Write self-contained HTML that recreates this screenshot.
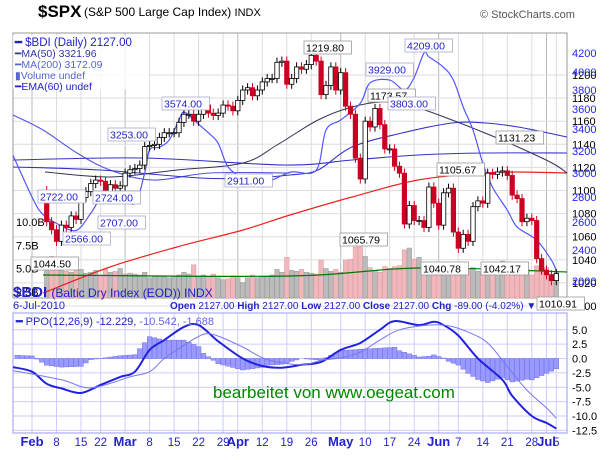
<!DOCTYPE html>
<html><head><meta charset="utf-8"><style>
body{margin:0;background:#fff;width:614px;height:455px;overflow:hidden;font-family:"Liberation Sans",sans-serif}
svg text{font-family:"Liberation Sans",sans-serif}
</style></head><body>
<svg id="c" width="614" height="455" xmlns="http://www.w3.org/2000/svg">
<rect width="614" height="455" fill="#fff"/>
<g id="grid"></g>
<g id="vol"></g>
<g id="lines"></g>
<g id="candles"></g>
<g id="ppo"></g>
<g id="labels"></g>
<text x="38" y="17" font-size="17" font-weight="bold" fill="#000">$SPX</text>
<text x="84" y="16" font-size="12" fill="#000">(S&amp;P 500 Large Cap Index) <tspan font-size="11">INDX</tspan></text>
<text x="480" y="18" font-size="11" fill="#555">© StockCharts.com</text>
<rect x="13" y="35" width="136" height="54" fill="#fff" fill-opacity="0.8"/>
<g font-size="10.5" fill="#22c">
<text x="15" y="46" font-size="11.5" font-family="DejaVu Sans Mono"><tspan font-weight="bold">━</tspan> $BDI (Daily) 2127.00</text>
<text x="15" y="57" fill="#33a">━MA(50) 3321.96</text>
<text x="15" y="68" fill="#56c">━MA(200) 3172.09</text>
<text x="15" y="79" fill="#56c">▮Volume undef</text>
<text x="15" y="90" fill="#22c">━EMA(60) undef</text>
</g>
<text x="13" y="297" font-size="15" font-weight="bold" fill="#22c">$BDI <tspan font-size="12" font-weight="normal">(Baltic Dry Index (EOD)) INDX</tspan></text>
<text x="13" y="309" font-size="11" fill="#22c">6-Jul-2010</text>
<text x="170" y="309" font-size="10" fill="#22c"><tspan font-weight="bold">Open</tspan> 2127.00 <tspan font-weight="bold">High</tspan> 2127.00 <tspan font-weight="bold">Low</tspan> 2127.00 <tspan font-weight="bold">Close</tspan> 2127.00 <tspan font-weight="bold">Chg</tspan> -89.00 (-4.02%) ▼</text>
<text x="16" y="325" font-size="11" fill="#22c"><tspan font-weight="bold">━</tspan> PPO(12,26,9) -12.229, <tspan fill="#66d">-10.542, -1.688</tspan></text>
<text x="213" y="398" font-size="17" fill="#080">bearbeitet von  www.oegeat.com</text>
</svg>
<script>
const startIdx=3;
const closes=[1073,1066,1056,1070,1068,1078,1075,1094,1099,1106,1109,1108,1094,1105,1102,1104,
1115,1118,1119,1122,1138,1139,1140,1146,1150,1150,1150,1159,1166,1166,1160,1166,1174,1167,1165,1167,1174,1173,1169,
1178,1187,1189,1182,1187,1194,1197,1197,1211,1212,1192,1197,1207,1205,1209,1217,1212,1183,1191,1207,1187,
1202,1173,1166,1128,1110,1160,1155,1171,1157,1136,1136,1121,1115,1071,1087,1074,1074,1068,1103,1089,
1070,1098,1102,1064,1050,1062,1056,1086,1091,1089,1115,1114,1116,1117,1113,1096,1093,1073,1076,1074,1041,1031,
1027,1022,1028];
const volumes=[6.1,6.3,4.9,5.1,4.7,4.6,4.8,4.9,4.5,4.6,4.8,4.3,4.9,4.6,4.7,5.0,
4.4,4.5,4.4,4.3,4.6,4.0,4.1,4.2,4.1,4.0,4.2,4.3,4.6,4.4,5.4,4.2,4.3,4.1,4.4,4.0,3.8,3.9,4.2,
4.0,3.5,4.0,4.3,4.0,4.1,4.2,4.3,4.9,4.6,6.2,4.8,4.7,4.9,4.6,4.5,4.4,5.9,5.0,4.7,4.9,
4.6,5.9,6.0,7.3,7.6,6.3,5.1,4.8,4.6,5.2,5.0,5.2,5.3,7.0,7.2,6.0,6.2,5.1,5.4,4.9,
5.0,5.3,4.9,5.7,5.2,5.4,5.0,5.1,4.7,4.3,4.6,4.7,4.6,5.8,4.5,4.6,4.4,4.8,4.9,4.3,5.3,5.6,
5.1,4.4,4.6];
const bdiIdx=[-4,0,2,5,9,12,14,18,21,23,24,26,28,30,31,33,36,38,40,43,47,50,53,58,60,63,67,69,73,76,78,80,81,84,86,88,90,92,94,97,99,103,106,107];
const bdiVals=[3160,2800,2670,2590,2540,2670,2775,2800,2750,3000,3210,3235,3300,3490,3570,3490,3365,3270,3055,2965,2915,2960,3010,3025,3390,3490,3660,3880,3910,3800,3940,4200,4160,4050,3910,3620,3390,3090,2880,2695,2565,2470,2270,2127];
const ppoIdx=[-4,0,3,6,10,14,18,21,24,27,31,34,38,43,47,51,55,59,63,67,71,74,79,82,84,87,91,96,98,102,105,107];
const ppoVals=[-1.5,-2.3,-4.4,-5.2,-6.0,-4.6,-3.2,-2.3,1.5,3.2,5.5,5.8,3.0,0,-1.3,-1.6,-1.1,-0.6,1.5,2.7,5.0,6.5,5.8,6.4,5.8,4.0,0,-3.7,-6.5,-10.0,-11.2,-12.2];
const sigIdx=[-4,6,12,20,24,27,31,35,38,43,48,55,59,63,67,71,75,81,85,89,93,97,101,105,107];
const sigVals=[-2.1,-3.7,-5.1,-3.2,-2.3,0,2.3,4.2,3.9,2.0,-0.2,-1.1,-0.3,0.1,1.1,3.2,5.0,5.8,5.7,4.6,2.7,-1.4,-5.5,-8.6,-10.4];
const spxTicks=[1200,1180,1160,1140,1120,1100,1080,1060,1040,1020,1000];
const bdiTicks=[[4200,53],[4000,72],[3800,90],[3600,109],[3400,129],[3200,151],[3000,173],[2800,197],[2600,222],[2400,250],[2000,281]];
const ppoTicks=[5,2.5,0,-2.5,-5,-7.5,-10,-12.5];
const monthLabels=[["Feb",0,1],["8",5,0],["15",10,0],["22",14,0],["Mar",19,1],["8",24,0],["15",29,0],["22",34,0],["29",39,0],["Apr",42,1],["12",47,0],["19",52,0],["26",57,0],["May",63,1],["10",68,0],["17",73,0],["24",78,0],["Jun",83,1],["7",87,0],["14",92,0],["21",97,0],["28",102,0],["Jul",105,1],["5",107,0]];

const NS="http://www.w3.org/2000/svg";
const L=13,R=567,T=33,B=298,PT=313,PB=433;
const X=i=>Math.max(L,32+i*4.9);
const yS=p=>75+(1200-p)*1.155;
const yV=v=>315-v*9.3;
const yP=v=>358.5-v*5.75;
function yB(v){for(let k=0;k<bdiTicks.length-1;k++){const a=bdiTicks[k],b=bdiTicks[k+1];if(v<=a[0]&&v>=b[0])return a[1]+(a[0]-v)/(a[0]-b[0])*(b[1]-a[1]);}return v>4200?53:281+(2000-v)*0.1;}
function el(t,a,p,txt){const e=document.createElementNS(NS,t);for(const k in a)e.setAttribute(k,a[k]);if(txt!==undefined)e.textContent=txt;document.getElementById(p).appendChild(e);return e;}
function interp(idx,vals,i){if(i<=idx[0])return vals[0];for(let k=0;k<idx.length-1;k++){if(i>=idx[k]&&i<=idx[k+1]){const f=(i-idx[k])/(idx[k+1]-idx[k]);return vals[k]+f*(vals[k+1]-vals[k]);}}return vals[vals.length-1];}
function smoothPath(p){let d='M'+p[0][0]+','+p[0][1];for(let k=0;k<p.length-1;k++){const a=p[Math.max(0,k-1)],b=p[k],c=p[k+1],e=p[Math.min(p.length-1,k+2)];
 const c1=[b[0]+(c[0]-a[0])/6,b[1]+(c[1]-a[1])/6],c2=[c[0]-(e[0]-b[0])/6,c[1]-(e[1]-b[1])/6];
 d+=' C'+c1[0].toFixed(1)+','+c1[1].toFixed(1)+' '+c2[0].toFixed(1)+','+c2[1].toFixed(1)+' '+c[0].toFixed(1)+','+c[1].toFixed(1);}return d;}

// grid
monthLabels.forEach(m=>{const x=X(m[1]);
 let g=el('line',{x1:x,y1:T,x2:x,y2:B,stroke:m[2]?'#bbb':'#ddd'},'grid');
 let g2=el('line',{x1:x,y1:PT,x2:x,y2:PB,stroke:'#ccf'},'grid');
 let t=el('text',{x:x,y:446,'font-size':m[2]?13:11.5,'font-weight':m[2]?'bold':'normal',fill:'#22c','text-anchor':'middle'},'labels',m[0]);
 });
spxTicks.forEach(p=>{const y=yS(p);
 let g=el('line',{x1:L,y1:y,x2:R,y2:y,stroke:'#ddd'},'grid');
 let t=el('text',{x:572,y:y+4,'font-size':11,fill:'#000'},'labels',p);});
bdiTicks.forEach(b=>{let t=el('text',{x:572,y:b[1]+4,'font-size':11,fill:'#22f'},'labels',b[0]);});
ppoTicks.forEach(v=>{const y=yP(v);
 let g=el('line',{x1:L,y1:y,x2:R,y2:y,stroke:'#ccf'},'grid');
 let t=el('text',{x:572,y:y+4,'font-size':11,fill:'#000'},'labels',v.toFixed(1));});
[['10.0B',10.0],['7.5B',7.5],['5.0B',5.0],['2.5B',2.5]].forEach(v=>{let t=el('text',{x:16,y:yV(v[1])+4,'font-size':11,fill:'#000'},'labels',v[0]);});
let fr=el('rect',{x:L,y:T,width:R-L,height:B-T,fill:'none',stroke:'#999'},'grid');
let fr2=el('rect',{x:L,y:PT,width:R-L,height:PB-PT,fill:'none',stroke:'#99f'},'grid');

// volume
volumes.forEach((v,j)=>{const i=j+startIdx;const up=j==0||closes[j]>=closes[j-1];const y=yV(v);
 let r=el('rect',{x:X(i)-2.3,y:y,width:4.6,height:B-y,fill:up?'#bbb':'#f0b8bc',stroke:up?'#999':'#e099a0','stroke-width':0.5},'vol');
 });

// overlay lines
function sline(pts,attrs,name){let p=el('path',Object.assign({d:smoothPath(pts),fill:'none'},attrs),'lines');}
sline([[43,293],[110,267],[177,247],[243,230],[290,215],[352,197],[418,180],[485,173],[518,172],[567,173]],{stroke:'#e22','stroke-width':1.2},'spx-ma200-line');
sline([[43,275],[290,276],[418,268],[567,272]],{stroke:'#070','stroke-width':1.2},'volume-ma-line');
sline([[13,115],[43,130],[77,153],[110,170],[153,180],[210,173],[290,173]],{stroke:'#55d','stroke-width':1.1},'bdi-band-line');
sline([[13,167],[100,170],[200,178],[250,178],[290,175],[318,170],[352,147],[402,133],[452,123],[485,123],[518,127],[567,137]],{stroke:'#33c','stroke-width':1.1},'bdi-ma50-line');
sline([[13,160],[143,158],[285,165],[352,160],[418,155],[485,153],[567,153]],{stroke:'#33c','stroke-width':1.1},'bdi-ma200-line');
sline([[45,172],[110,177],[177,170],[243,163],[277,145],[318,120],[352,107],[385,102],[418,108],[452,120],[485,133],[518,147],[552,163],[567,173]],{stroke:'#335','stroke-width':1},'spx-ma50-line');
let bp=bdiIdx.map((k,j)=>[X(k),yB(bdiVals[j])]);
sline(bp,{stroke:'#55f','stroke-width':1.2},'bdi-price-line');

// candles
closes.forEach((c,j)=>{const i=j+startIdx;const o=j==0?1100:closes[j-1];const x=X(i);const up=c>=o;
 const hi=Math.max(o,c)+4,lo=Math.min(o,c)-4;
 let w=el('line',{x1:x,y1:yS(hi),x2:x,y2:yS(lo),stroke:up?'#000':'#c02'},'candles');
 const top=yS(Math.max(o,c)),h=Math.max(1,Math.abs(yS(o)-yS(c)));
 let r=el('rect',{x:x-2.2,y:top,width:4.4,height:h,fill:up?'#fff':'#c02',stroke:up?'#000':'#c02','stroke-width':0.8},'candles');});

// PPO
for(let i=-3;i<=107;i++){const h=interp(ppoIdx,ppoVals,i)-interp(sigIdx,sigVals,i);const y0=yP(0),y1=yP(h);
 let r=el('rect',{x:X(i)-2.4,y:Math.min(y0,y1),width:4.8,height:Math.abs(y1-y0),fill:'#99f',stroke:'#66d','stroke-width':0.4},'ppo');
 }
let pp=el('path',{d:smoothPath(ppoIdx.map((k,j)=>[X(k),yP(ppoVals[j])])),fill:'none',stroke:'#22d','stroke-width':2},'ppo');
let sp=el('path',{d:smoothPath(sigIdx.map((k,j)=>[X(k),yP(sigVals[j])])),fill:'none',stroke:'#77e','stroke-width':1},'ppo');

// annotations
const ann=[["1219.80",304,41,0],["1173.57",368,89,0],["1065.79",340,233,0],["1105.67",437,163,0],["1131.23",496,131,0],["1040.78",421,262,0],["1042.17",481,262,0],["1010.91",537,297,0],["1044.50",31,257,0],
["4209.00",405,39,1],["3929.00",366,63,1],["3803.00",388,97,1],["3574.00",162,97,1],["3253.00",108,128,1],["2911.00",225,174,1],["2722.00",38,190,1],["2724.00",93,191,1],["2707.00",98,216,1],["2566.00",63,232,1]];
ann.forEach(a=>{const w=a[0].length*6.2+4;
 let r=el('rect',{x:a[1],y:a[2],width:w,height:13,fill:'#fff',stroke:a[3]?'#aac':'#999','stroke-width':0.8},'labels');
 let t=el('text',{x:a[1]+2,y:a[2]+10.5,'font-size':10.5,fill:a[3]?'#22c':'#000'},'labels',a[0]);});
</script>
</body></html>
